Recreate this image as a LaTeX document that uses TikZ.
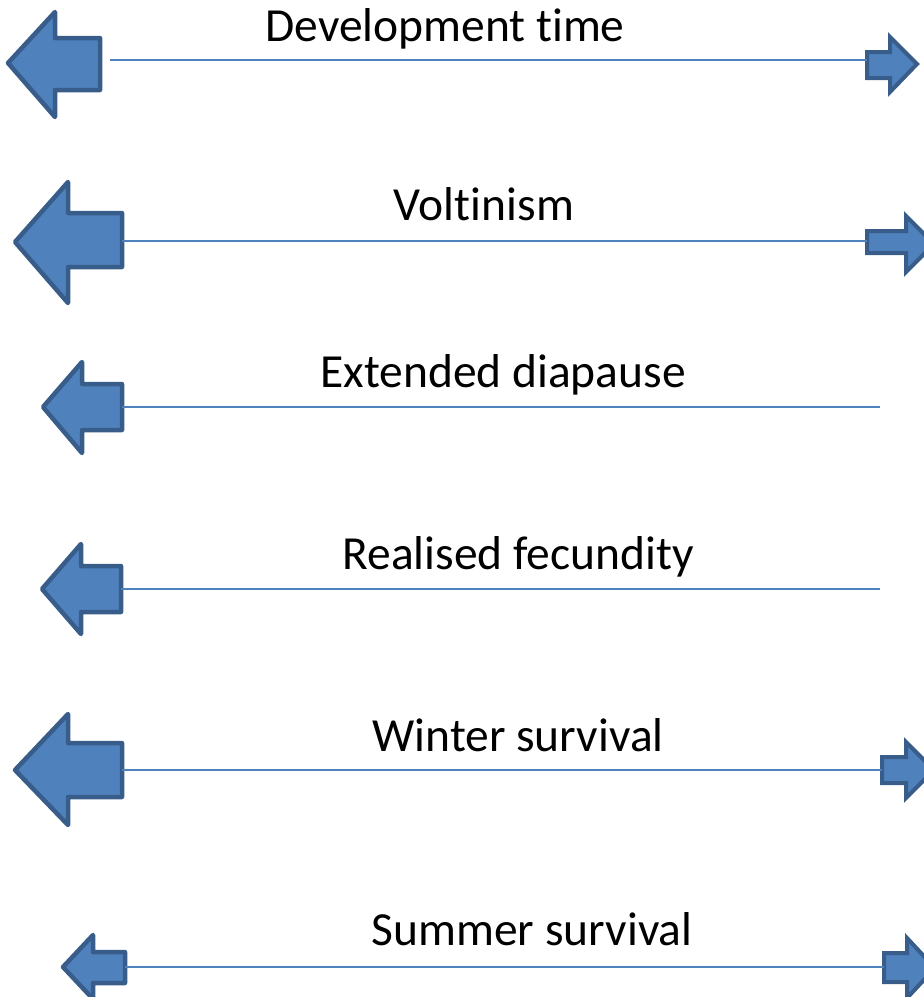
\documentclass[tikz,border=0pt]{standalone}
\usepackage{fontspec}
\setmainfont{Carlito}[Ligatures=NoCommon]
\usepackage{tikz}
\usetikzlibrary{positioning}
\definecolor{officeblue}{HTML}{4F81BD}
\definecolor{officedark}{HTML}{385D8A}

\begin{document}
\begin{tikzpicture}[
    x=1pt, y=-1pt,
    blockarrow/.style={draw=officedark, fill=officeblue, line width=4.5pt, line join=round},
    smallarrow/.style={draw=officedark, fill=officeblue, line width=4pt, line join=miter},
    axis/.style={draw=officeblue, line width=2pt},
    label/.style={anchor=base, font=\fontsize{47.5}{56}\selectfont}
]
\clip (0,0) rectangle (924,997);

% Left block arrows
\draw[blockarrow] (8,63) -- (55,12) -- (55,38) -- (100,38) -- (100,90) -- (55,90) -- (55,117) -- cycle;
\draw[blockarrow] (15,242) -- (68,182) -- (68,213) -- (122,213) -- (122,267) -- (68,267) -- (68,303) -- cycle;
\draw[blockarrow] (43,407) -- (82,362) -- (82,384) -- (122,384) -- (122,430) -- (82,430) -- (82,453) -- cycle;
\draw[blockarrow] (42,589) -- (81,544) -- (81,566) -- (121,566) -- (121,612) -- (81,612) -- (81,634) -- cycle;
\draw[blockarrow] (15,770) -- (68,714) -- (68,743) -- (122,743) -- (122,797) -- (68,797) -- (68,825) -- cycle;
\draw[blockarrow] (63,967) -- (93,935) -- (93,952) -- (125,952) -- (125,983) -- (93,983) -- (93,999) -- cycle;

% Right block arrows
\draw[smallarrow] (867,52) -- (890,52) -- (890,37) -- (917,64) -- (890,92) -- (890,78) -- (867,78) -- cycle;
\draw[smallarrow] (867,231) -- (906,231) -- (906,216) -- (934,244) -- (906,272) -- (906,253) -- (867,253) -- cycle;
\draw[smallarrow] (882,757) -- (906,757) -- (906,742) -- (934,770) -- (906,798) -- (906,783) -- (882,783) -- cycle;
\draw[smallarrow] (884,953) -- (907,953) -- (907,938) -- (935,968) -- (907,998) -- (907,982) -- (884,982) -- cycle;

% Line ends
\coordinate (dev-l) at (110,60);   \coordinate (dev-r) at (867,60);
\coordinate (volt-l) at (122,241); \coordinate (volt-r) at (867,241);
\coordinate (dia-l) at (122,407);  \coordinate (dia-r) at (880,407);
\coordinate (fec-l) at (121,589);  \coordinate (fec-r) at (880,589);
\coordinate (win-l) at (122,770);  \coordinate (win-r) at (882,770);
\coordinate (sum-l) at (125,967);  \coordinate (sum-r) at (884,967);

% Lines
\draw[axis] (dev-l) -- (dev-r);
\draw[axis] (volt-l) -- (volt-r);
\draw[axis] (dia-l) -- (dia-r);
\draw[axis] (fec-l) -- (fec-r);
\draw[axis] (win-l) -- (win-r);
\draw[axis] (sum-l) -- (sum-r);

% Labels
\node[label] (dev) at (445,41) {Development time};
\node[label] (volt) at (484,220) {Voltinism};
\node[label] (dia) at (503,387) {Extended diapause};
\node[label] (fec) at (518,569) {Realised fecundity};
\node[label] (win) at (518,751) {Winter survival};
\node[label] (sum) at (532,945) {Summer survival};

\end{tikzpicture}
\end{document}
